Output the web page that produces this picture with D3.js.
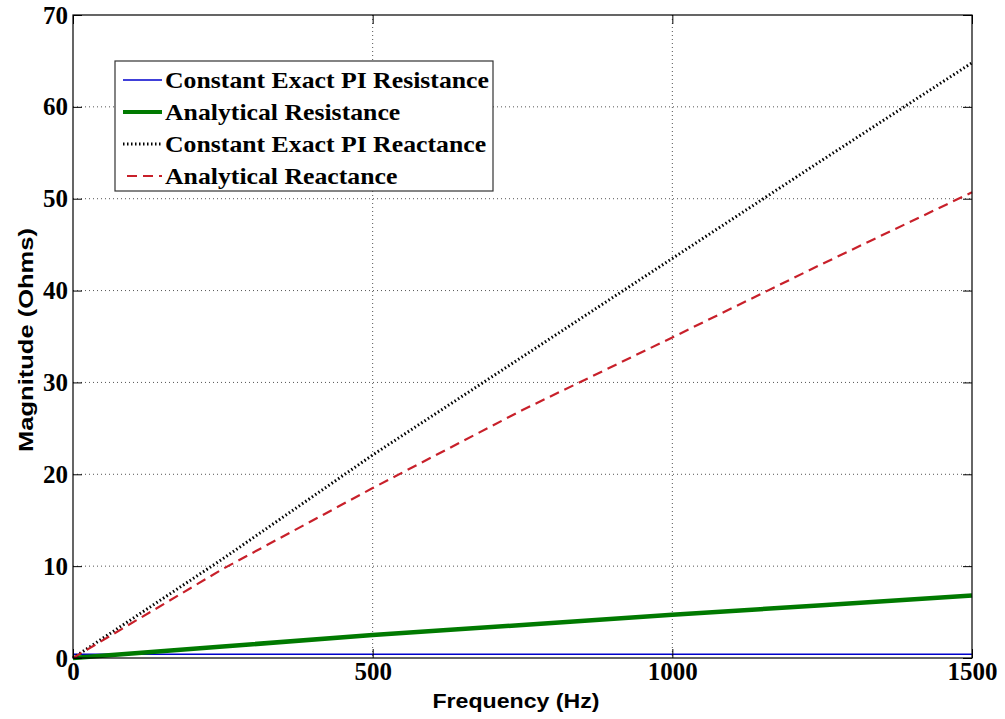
<!DOCTYPE html>
<html>
<head>
<meta charset="utf-8">
<script src="https://cdn.jsdelivr.net/npm/d3@7"></script>
<style>
  body { margin: 0; background: #fff; }
</style>
</head>
<body>
<div id="chart"></div>
<script>
// data
const frequency = [0, 250, 500, 750, 1000, 1250, 1500]
const exactResistance = [0.4, 0.4, 0.4, 0.4, 0.4, 0.4, 0.4]
const analyticalResistance = [0, 1.25, 2.5, 3.6, 4.7, 5.75, 6.8]
const exactReactance = [0, 10.8, 22.1, 32.8, 43.5, 54.2, 64.8]
const analyticalReactance = [0, 9.7, 18.5, 27.0, 34.9, 42.9, 50.7]

const seriesNames = [
  "Constant Exact PI Resistance",
  "Analytical Resistance",
  "Constant Exact PI Reactance",
  "Analytical Reactance",
]
const xTicks = [0, 500, 1000, 1500]
const yTicks = [0, 10, 20, 30, 40, 50, 60, 70]

function drawChart() {

  // 1. dimensions
  let dimensions = {
    width: 1005,
    height: 719,
    margin: { top: 15, right: 33, bottom: 61, left: 73 },
  }
  dimensions.boundedWidth = dimensions.width - dimensions.margin.left - dimensions.margin.right
  dimensions.boundedHeight = dimensions.height - dimensions.margin.top - dimensions.margin.bottom

  // 2. canvas
  const wrapper = d3.select("#chart")
    .append("svg")
      .attr("width", dimensions.width)
      .attr("height", dimensions.height)

  const bounds = wrapper.append("g")
    .attr("transform", `translate(${dimensions.margin.left},${dimensions.margin.top})`)

  // 3. scales
  const xScale = d3.scaleLinear()
    .domain([0, 1500])
    .range([0, dimensions.boundedWidth])

  const yScale = d3.scaleLinear()
    .domain([0, 70])
    .range([dimensions.boundedHeight, 0])

  // 4. grid (dotted, matlab style)
  bounds.append("g").selectAll("line")
    .data(xTicks.slice(1, -1))
    .join("line")
      .attr("x1", d => xScale(d)).attr("x2", d => xScale(d))
      .attr("y1", 0).attr("y2", dimensions.boundedHeight)
      .attr("stroke", "#555").attr("stroke-width", 1)
      .attr("stroke-dasharray", "1,3")

  bounds.append("g").selectAll("line")
    .data(yTicks.slice(1, -1))
    .join("line")
      .attr("x1", 0).attr("x2", dimensions.boundedWidth)
      .attr("y1", d => yScale(d)).attr("y2", d => yScale(d))
      .attr("stroke", "#555").attr("stroke-width", 1)
      .attr("stroke-dasharray", "1,3")

  // 5. lines
  const series = [
    { name: seriesNames[0], values: exactResistance, color: "#0000cc", width: 1.5, dash: null },
    { name: seriesNames[1], values: analyticalResistance, color: "#007a00", width: 4.5, dash: null },
    { name: seriesNames[2], values: exactReactance, color: "#000", width: 3, dash: "1.5,2.5" },
    { name: seriesNames[3], values: analyticalReactance, color: "#c8202a", width: 2.2, dash: "10,6" },
  ]

  const lineGenerator = d3.line()
    .x((d, i) => xScale(frequency[i]))
    .y(d => yScale(d))

  series.forEach(s => {
    bounds.append("path")
      .attr("d", lineGenerator(s.values))
      .attr("fill", "none")
      .attr("stroke", s.color)
      .attr("stroke-width", s.width)
      .attr("stroke-dasharray", s.dash)
  })

  // 6. axes, ticks pointing inward
  const tickFont = "'Liberation Serif', 'Times New Roman', serif"

  const yAxis = bounds.append("g")
    .call(d3.axisLeft(yScale).tickValues(yTicks).tickFormat(d3.format("d")).tickSize(-9).tickPadding(5))
  const xAxis = bounds.append("g")
    .attr("transform", `translate(0,${dimensions.boundedHeight})`)
    .call(d3.axisBottom(xScale).tickValues(xTicks).tickFormat(d3.format("d")).tickSize(-9).tickPadding(4))
  const yAxisRight = bounds.append("g")
    .attr("transform", `translate(${dimensions.boundedWidth},0)`)
    .call(d3.axisRight(yScale).tickValues(yTicks).tickSize(-9).tickFormat(""))
  const xAxisTop = bounds.append("g")
    .call(d3.axisTop(xScale).tickValues(xTicks).tickSize(-9).tickFormat(""))

  ;[yAxis, xAxis, yAxisRight, xAxisTop].forEach(a => {
    a.select(".domain").remove()
    a.selectAll("text")
      .attr("fill", "#000")
      .style("font-family", tickFont)
      .style("font-weight", "bold")
      .style("font-size", "25px")
  })

  // box round the plot
  bounds.append("rect")
    .attr("width", dimensions.boundedWidth)
    .attr("height", dimensions.boundedHeight)
    .attr("fill", "none")
    .attr("stroke", "#000")
    .attr("stroke-width", 1.2)

  // axis titles
  wrapper.append("text")
    .attr("x", 516)
    .attr("y", 708)
    .attr("text-anchor", "middle")
    .attr("textLength", 167)
    .attr("lengthAdjust", "spacingAndGlyphs")
    .style("font-family", "'Liberation Sans', Arial, sans-serif")
    .style("font-weight", "bold")
    .style("font-size", "21px")
    .text("Frequency (Hz)")

  wrapper.append("text")
    .attr("transform", "translate(33,340) rotate(-90)")
    .attr("text-anchor", "middle")
    .attr("textLength", 224)
    .attr("lengthAdjust", "spacingAndGlyphs")
    .style("font-family", "'Liberation Sans', Arial, sans-serif")
    .style("font-weight", "bold")
    .style("font-size", "21px")
    .text("Magnitude (Ohms)")

  // 7. legend
  const legend = wrapper.append("g")
    .attr("transform", "translate(115,61)")

  legend.append("rect")
    .attr("width", 378)
    .attr("height", 130)
    .attr("fill", "#fff")
    .attr("stroke", "#333")
    .attr("stroke-width", 1.2)

  const rows = legend.selectAll("g.row")
    .data(series)
    .join("g")
      .attr("class", "row")
      .attr("transform", (d, i) => `translate(0,${19 + i * 32})`)

  rows.append("line")
    .attr("x1", (d, i) => i === 3 ? 12 : 8)
    .attr("x2", 47)
    .attr("stroke", d => d.color)
    .attr("stroke-width", d => Math.min(d.width, 4))
    .attr("stroke-dasharray", d => d.dash)

  // text in the picture is a bit wider than plain Times, stretch it
  rows.append("text")
    .attr("transform", "translate(50,8) scale(1.12,1)")
    .style("font-family", tickFont)
    .style("font-weight", "bold")
    .style("font-size", "23px")
    .text(d => d.name)
}

drawChart()
</script>
</body>
</html>
